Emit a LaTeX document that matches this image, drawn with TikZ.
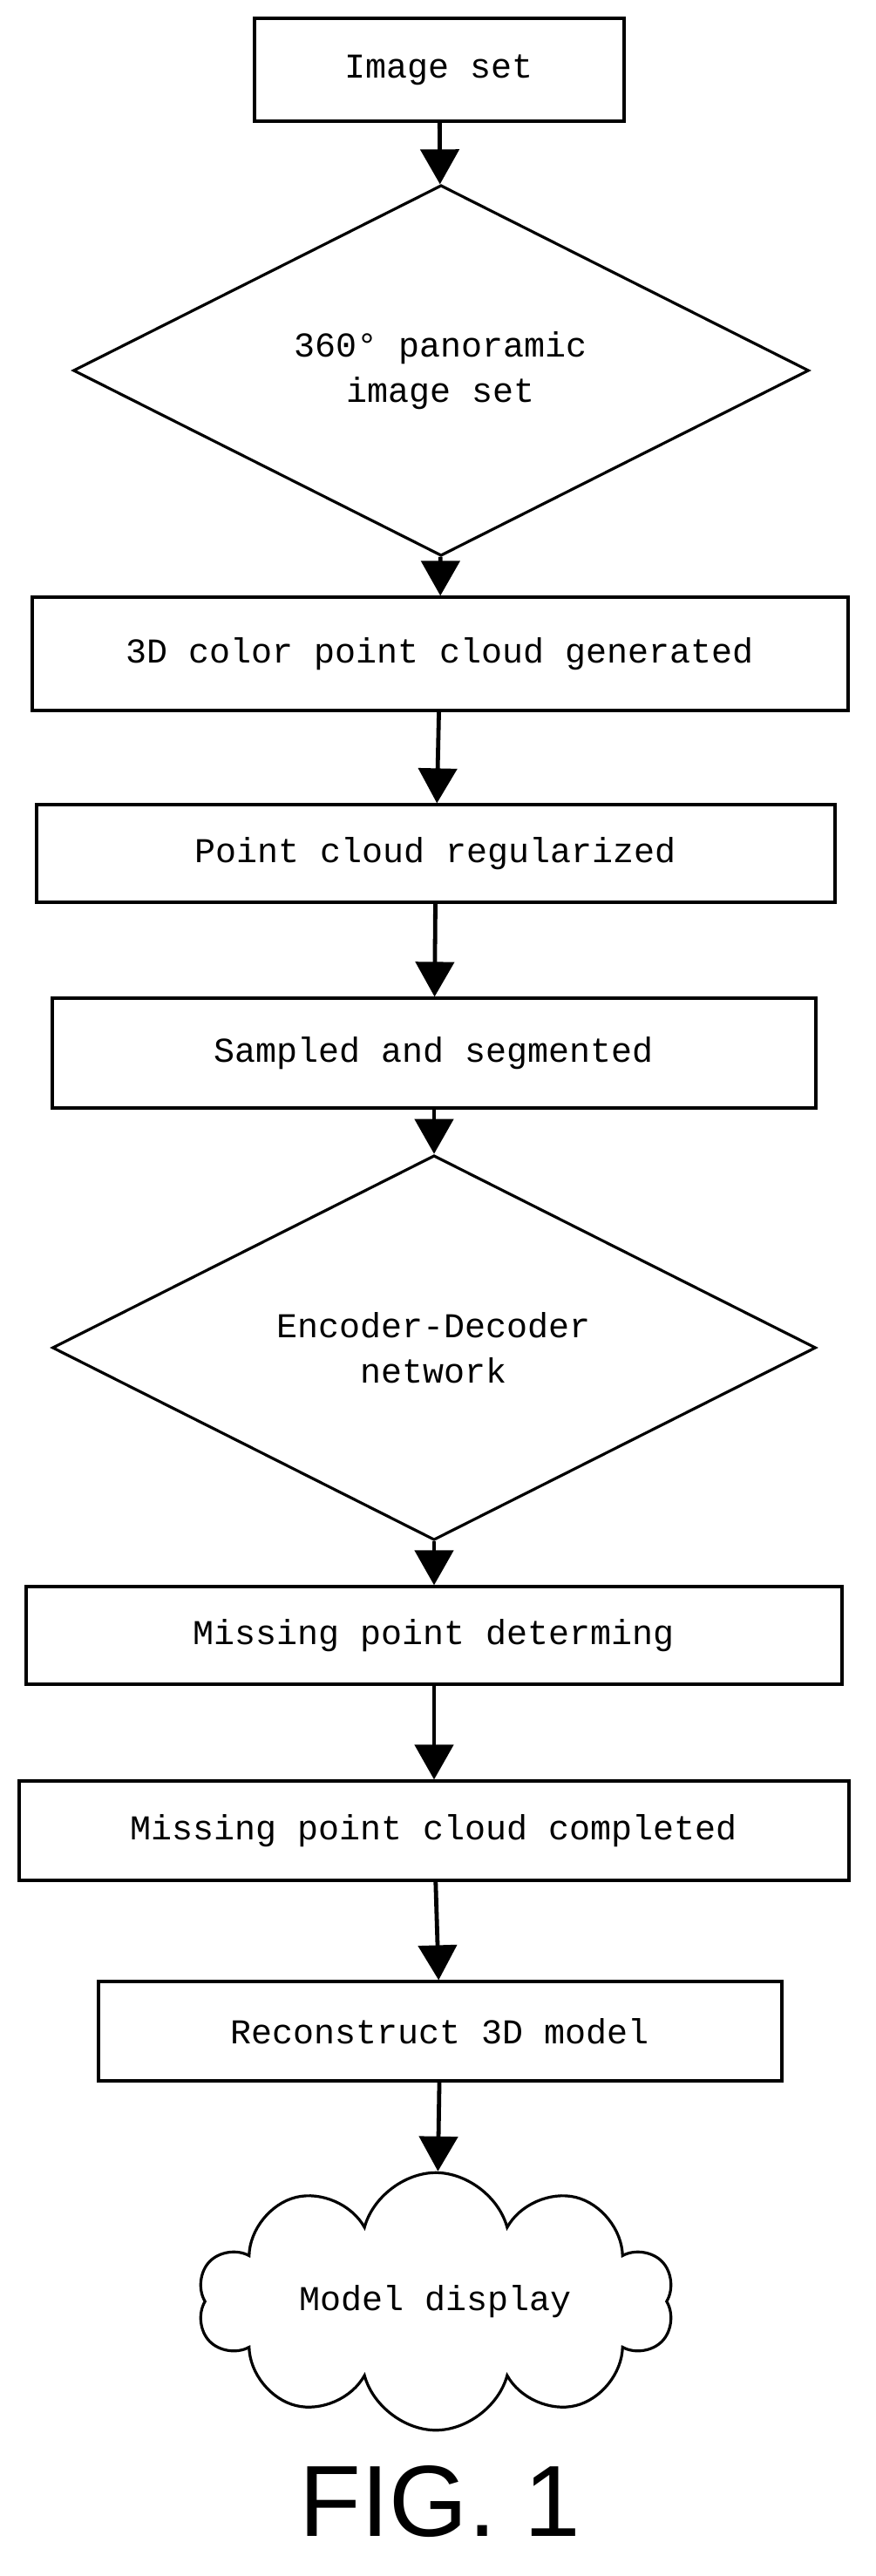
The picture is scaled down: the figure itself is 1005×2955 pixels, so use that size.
\documentclass[tikz,border=0pt]{standalone}
\usepackage{fontspec}
\setmainfont{Liberation Mono}
\newfontfamily\figfont{Liberation Sans}
\usetikzlibrary{shapes.geometric,shapes.symbols,arrows.meta}

\tikzset{
	stage/.style={draw, line width=1.6pt, inner sep=0pt, font=\fontsize{20}{26}\selectfont},
	decide/.style={stage, diamond, align=center},
	flow/.style={line width=2.4pt, -{Triangle[length=20pt, width=22pt]}}
}

\begin{document}
\begin{tikzpicture}[x=0.5pt, y=-0.5pt]
	\useasboundingbox (0,0) rectangle (1005,2955);
	\node[stage, minimum width=212pt, minimum height=59pt] (imgset) at (504,80) {Image set};
	\node[decide, minimum width=422pt, minimum height=176pt] (pano) at (506,425) {360° panoramic\\image set};
	\node[stage, minimum width=468pt, minimum height=65pt] (cloudgen) at (505,750) {3D color point cloud generated};
	\node[stage, minimum width=458pt, minimum height=56pt] (regular) at (500,979) {Point cloud regularized};
	\node[stage, minimum width=438pt, minimum height=63pt] (sample) at (498,1208) {Sampled and segmented};
	\node[decide, minimum width=438pt, minimum height=165pt] (encdec) at (498,1546) {Encoder-Decoder\\network};
	\node[stage, minimum width=468pt, minimum height=56pt] (missdet) at (498,1876) {Missing point determing};
	\node[stage, minimum width=476pt, minimum height=57pt] (misscomp) at (498,2100) {Missing point cloud completed};
	\node[stage, minimum width=392pt, minimum height=57pt] (recon) at (505,2330) {Reconstruct 3D model};
	\node[stage, cloud, cloud puffs=10, aspect=2.2, minimum width=273pt, minimum height=120pt] (display) at (500,2640) {Model display};
	\node[font=\figfont\fontsize{58}{60}\selectfont] (fig) at (505,2870) {FIG. 1};
	% arrows down the chain
	\draw[flow] (imgset) -- (pano);
	\draw[flow] (pano) -- (cloudgen);
	\draw[flow] (cloudgen) -- (regular);
	\draw[flow] (regular) -- (sample);
	\draw[flow] (sample) -- (encdec);
	\draw[flow] (encdec) -- (missdet);
	\draw[flow] (missdet) -- (misscomp);
	\draw[flow] (misscomp) -- (recon);
	\draw[flow] (recon) -- (display);
\end{tikzpicture}
\end{document}
